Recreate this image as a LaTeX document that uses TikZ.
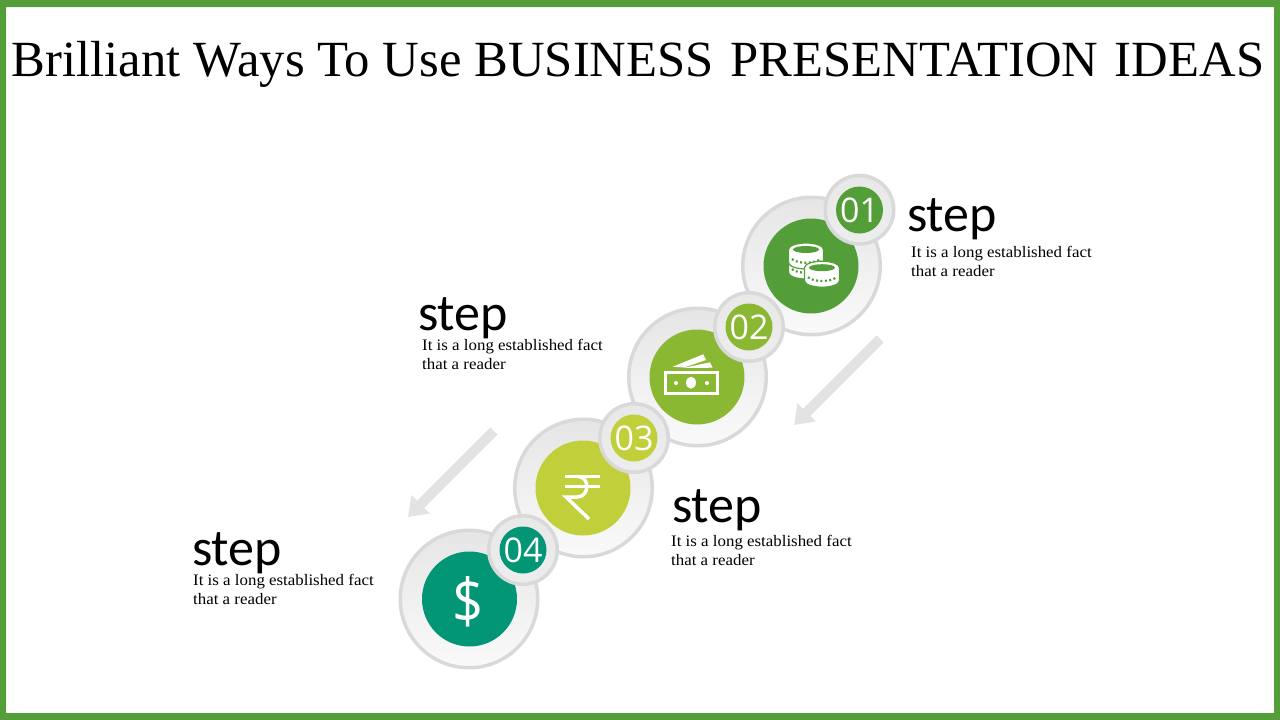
\documentclass[tikz,border=0pt]{standalone}
\usepackage{fontspec}
\setmainfont{Liberation Serif}
\newfontfamily\notefont[FakeStretch=1.055]{Liberation Serif}
\newfontfamily\stepfont{Carlito}
\newfontfamily\numfont{Open Sans}
\usetikzlibrary{arrows.meta}
\definecolor{gone}{HTML}{549E39}
\definecolor{gtwo}{HTML}{8AB833}
\definecolor{gthree}{HTML}{C0CF3A}
\definecolor{gfour}{HTML}{029676}
\definecolor{ringline}{HTML}{D9D9D9}
\definecolor{flowgray}{HTML}{E3E3E3}
% one coin: white body, hole on top, dots along the rim
\newcommand{\coin}[3]{
  \filldraw[fill=white,draw=#3,line width=1.2pt] (#1-17.5,#2) -- (#1-17.5,#2+13) arc[start angle=180,end angle=0,x radius=17.5,y radius=6.5]
    -- (#1+17.5,#2) arc[start angle=0,end angle=-180,x radius=17.5,y radius=6.5] -- cycle;
  \fill[#3] (#1,#2) ellipse[x radius=13,y radius=3.5];
  \draw[#3,line width=2.2pt,dash pattern=on 2pt off 2.4pt] (#1-14,#2+9.5) arc[start angle=165,end angle=15,x radius=14.5,y radius=5];
}

\begin{document}
\begin{tikzpicture}
    [x=1pt,y=-1pt,
    bigring/.style={circle,draw=ringline,line width=3.5pt,minimum size=137.5pt,inner sep=0pt,top color=black!10,bottom color=black!2},
    tinyring/.style={circle,draw=ringline,line width=3.5pt,minimum size=68.5pt,inner sep=0pt,top color=black!9,middle color=white,bottom color=black!7},
    bigdisc/.style={circle,minimum size=95pt,inner sep=0pt},
    tinydisc/.style={circle,minimum size=47pt,inner sep=0pt,text=white,font=\numfont\fontsize{34}{34}\selectfont},
    steptitle/.style={anchor=base west,inner sep=0pt,font=\stepfont\fontsize{52}{52}\selectfont},
    stepnote/.style={anchor=north west,inner sep=0pt,align=left,font=\notefont\fontsize{16}{19}\selectfont},
    flow/.style={flowgray,line width=10pt,-{Triangle[width=25pt,length=18pt]}}]
    \useasboundingbox (0,0) rectangle (1280,720);
    \fill[gone,even odd rule] (0,0) rectangle (1280,720) (6,7) rectangle (1274,713);

    \node[anchor=base,inner sep=0pt,font=\fontsize{50.7}{50.7}\selectfont] (title) at (638,76.5) {Brilliant Ways To Use BUSINESS\hspace{4pt} PRESENTATION\hspace{4pt} IDEAS};

    \coordinate (fa) at (880,339);
    \coordinate (fb) at (794,425);
    \coordinate (fc) at (494,431);
    \coordinate (fd) at (408,517);
    \draw[flow] (fa) -- (fb);
    \draw[flow] (fc) -- (fd);

    \node[bigring] (ra) at (811.5,266) {};
    \node[bigdisc,fill=gone] (da) at (811,266) {};
    \node[tinyring] (ta) at (859.5,209.7) {};
    \node[tinydisc,fill=gone] (na) at (859.5,210) {01};

    \node[bigring] (rb) at (697.5,377) {};
    \node[bigdisc,fill=gtwo] (db) at (697,377) {};
    \node[tinyring] (tb) at (749,327) {};
    \node[tinydisc,fill=gtwo] (nb) at (749,327) {02};

    \node[bigring] (rc) at (583.5,488) {};
    \node[bigdisc,fill=gthree] (dc) at (583,488) {};
    \node[tinyring] (tc) at (634,438) {};
    \node[tinydisc,fill=gthree] (nc) at (634,438) {03};

    \node[bigring] (rd) at (469,599) {};
    \node[bigdisc,fill=gfour] (dd) at (469.5,599) {};
    \node[inner sep=0pt,text=white,xscale=.88,font=\numfont\fontsize{62}{62}\selectfont] (dollar) at (468.5,602) {\$};
    \node[tinyring] (td) at (523,550) {};
    \node[tinydisc,fill=gfour] (nd) at (523,550) {04};

    % coins
    \coin{806}{259.5}{gone}
    \coin{806}{249.5}{gone}
    \coin{822}{267.7}{gone}

    % banknote
    \fill[white] (672.7,366.7) -- (703.3,354.3) -- (706,360) -- (684,367.5) -- cycle;
    \fill[white] (683,368) -- (710,362.3) -- (712.7,367.7) -- cycle;
    \draw[white,line width=3pt] (665.5,372.5) rectangle (717.5,393.5);
    \fill[white] (691,382.7) ellipse[x radius=5,y radius=6];
    \fill[white] (676,383) circle[radius=2];
    \fill[white] (707,383) circle[radius=2];

    % rupee
    \draw[white,line width=3.5pt] (565,476.5) -- (600,476.5) (565,486.5) -- (600,486.5);
    \draw[white,line width=3.5pt] (578,476.5) .. controls (590,476.5) and (590,497) .. (577,497) -- (566,497) -- (589,519);

    \node[steptitle] (sa) at (907,231) {step};
    \node[stepnote] (ta1) at (911,246) {It is a long established fact\\that a reader};
    \node[steptitle] (sb) at (418,330) {step};
    \node[stepnote] (tb1) at (422,339) {It is a long established fact\\that a reader};
    \node[steptitle] (sc) at (672,522) {step};
    \node[stepnote] (tc1) at (671,535) {It is a long established fact\\that a reader};
    \node[steptitle] (sd) at (192,565) {step};
    \node[stepnote] (td1) at (193,574) {It is a long established fact\\that a reader};
\end{tikzpicture}
\end{document}
